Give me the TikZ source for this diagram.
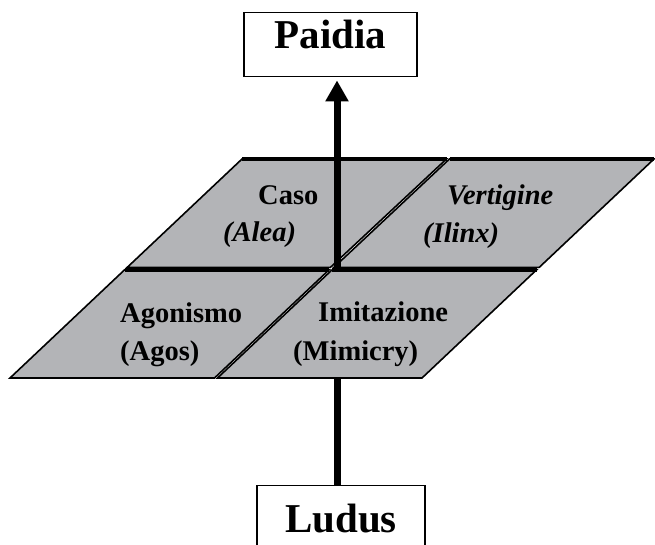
\documentclass[tikz,border=0pt]{standalone}
\usepackage{fontspec}
\setmainfont{Liberation Serif}
\usetikzlibrary{arrows.meta}
\definecolor{tilegray}{RGB}{179,180,183}
\tikzset{
  tile/.style={fill=tilegray, draw=black, line width=1.6pt},
  tiletop/.style={line width=3.6pt},
  pole/.style={draw=black, line width=1.4pt, inner sep=0pt, anchor=north, font=\fontsize{41}{41}\selectfont\bfseries},
  lbl/.style={anchor=base west, inner sep=0pt, font=\fontsize{28.5}{30}\selectfont\bfseries},
}
\begin{document}
\begin{tikzpicture}[x=1pt,y=-1pt]
\useasboundingbox (0,0) rectangle (655,545);
\node[pole, minimum width=173pt, text height=36pt, text depth=28pt] (paidia) at (330.5,12) {Paidia};
\node[pole, minimum width=168pt, text height=47pt, text depth=30pt] (ludus) at (341,485) {Ludus};
% upper row
\filldraw[tile] (127.3,267.3) -- (330.5,267.3) -- (446.5,159) -- (242,159) -- cycle; % caso
\draw[tiletop] (242,159) -- (446.5,159);
\filldraw[tile] (334,267.3) -- (539.3,267.3) -- (654,159) -- (449.5,159) -- cycle; % vertigine
\draw[tiletop] (449.5,159) -- (654,159);
\node[lbl] (caso) at (258,205) {Caso};
\node[lbl] (alea) at (223,241) {\itshape (Alea)};
\node[lbl] (vertigine) at (447,205) {\itshape Vertigine};
\node[lbl] (ilinx) at (423,243) {\itshape (Ilinx)};
% axis from ludus to paidia
\draw[line width=7pt, -{Triangle[width=22pt,length=21pt]}, shorten >=3pt] ([xshift=-4pt]ludus.north) -- ([xshift=6.5pt]paidia.south);
% lower row
\filldraw[tile] (10,378) -- (214.5,378) -- (329.2,269.7) -- (124.7,269.7) -- cycle; % agonismo
\draw[tiletop] (124.7,269.7) -- (329.2,269.7);
\filldraw[tile] (217.5,378) -- (422,378) -- (536.7,269.7) -- (332.2,269.7) -- cycle; % imitazione
\draw[tiletop] (332.2,269.7) -- (536.7,269.7);
\node[lbl] (agonismo) at (120,322) {Agonismo};
\node[lbl] (agos) at (120,360) {(Agos)};
\node[lbl] (imitazione) at (318,321) {Imitazione};
\node[lbl] (mimicry) at (293,360) {(Mimicry)};
\end{tikzpicture}
\end{document}
